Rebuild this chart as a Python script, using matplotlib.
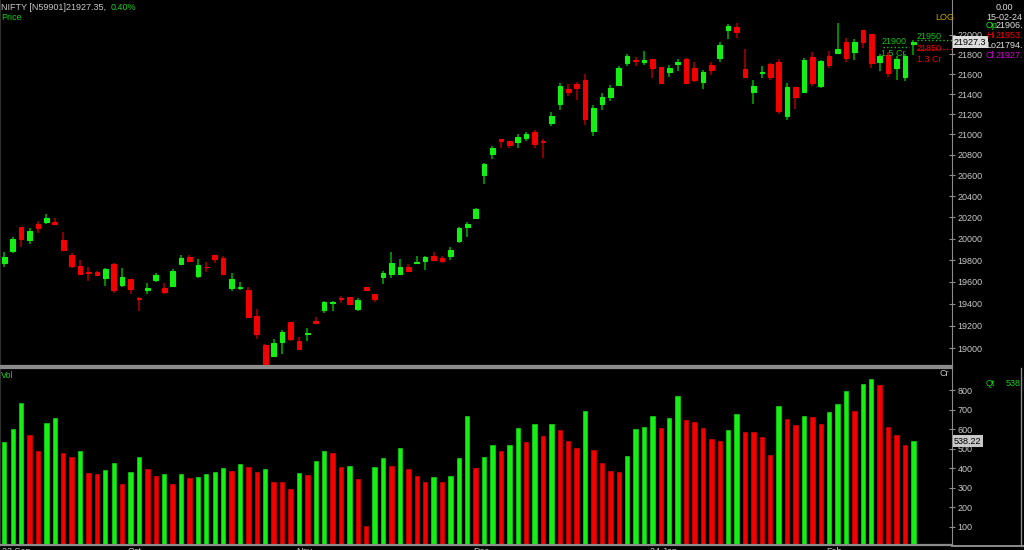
import matplotlib
matplotlib.use("Agg")
import matplotlib.pyplot as plt
import matplotlib.transforms as mtransforms
from matplotlib.lines import Line2D
from matplotlib.ticker import FixedLocator, NullLocator, FuncFormatter
import numpy as np

plt.rcParams["font.family"] = ["Liberation Sans", "DejaVu Sans"]

# Daily NIFTY candles (Sep 2023 - 15 Feb 2024)
opens = [19774, 19886, 20113, 19988, 20138, 20154, 20160, 19988, 19848, 19750,
         19686, 19692, 19636, 19768, 19575, 19627, 19450, 19524, 19618, 19545,
         19566, 19768, 19830, 19652, 19740, 19848, 19823, 19542, 19539, 19527,
         19293, 19033, 18935, 19054, 19239, 19069, 19128, 19248, 19345, 19408,
         19456, 19462, 19351, 19557, 19493, 19645, 19676, 19676, 19741, 19774,
         19793, 19836, 19823, 19842, 19976, 20110, 20192, 20601, 20810, 20955,
         20932, 20925, 20961, 21020, 20935, 21112, 21298, 21451, 21497, 21542,
         21030, 21305, 21368, 21494, 21714, 21744, 21726, 21757, 21670, 21620,
         21702, 21754, 21660, 21525, 21692, 21768, 22048, 22082, 21653, 21425,
         21610, 21706, 21720, 21182, 21469, 21424, 21778, 21480, 21788, 21815,
         21925, 21823, 22051, 22010, 21726, 21798, 21660, 21575, 21906]
highs = [19873, 20013, 20113, 20103, 20169, 20230, 20198, 20060, 19864, 19802,
         19741, 19701, 19728, 19771, 19728, 19627, 19465, 19588, 19680, 19588,
         19722, 19846, 19848, 19809, 19784, 19848, 19839, 19680, 19600, 19557,
         19351, 19039, 19081, 19164, 19239, 19099, 19179, 19284, 19423, 19429,
         19472, 19465, 19456, 19557, 19493, 19695, 19879, 19809, 19762, 19836,
         19839, 19879, 19836, 19923, 20113, 20160, 20290, 20722, 20890, 20955,
         20932, 21006, 21026, 21040, 20955, 21218, 21507, 21500, 21520, 21600,
         21288, 21406, 21490, 21680, 21810, 21772, 21838, 21757, 21670, 21690,
         21753, 21767, 21727, 21643, 21727, 21932, 22112, 22124, 21856, 21542,
         21680, 21716, 21754, 21507, 21469, 21761, 21823, 21744, 21839, 22124,
         21966, 21956, 22051, 22010, 21806, 21822, 21788, 21802, 21953]
lows = [19735, 19870, 19920, 19951, 20057, 20135, 20126, 19886, 19726, 19664,
        19609, 19649, 19561, 19502, 19557, 19490, 19338, 19490, 19600, 19487,
        19557, 19762, 19784, 19639, 19692, 19777, 19667, 19518, 19524, 19269,
        19081, 18847, 18926, 18950, 19069, 18983, 19069, 19224, 19315, 19330,
        19411, 19388, 19336, 19524, 19420, 19584, 19636, 19664, 19686, 19762,
        19713, 19793, 19774, 19802, 19960, 20019, 20182, 20516, 20760, 20867,
        20867, 20870, 20932, 20870, 20770, 21083, 21237, 21380, 21341, 21090,
        20984, 21237, 21331, 21478, 21680, 21680, 21690, 21560, 21507, 21574,
        21636, 21497, 21525, 21451, 21592, 21721, 21959, 21973, 21560, 21298,
        21565, 21542, 21201, 21142, 21251, 21411, 21480, 21463, 21660, 21815,
        21727, 21740, 21864, 21665, 21636, 21575, 21542, 21532, 21794.8]
closes = [19827, 19997, 19995, 20075, 20103, 20198, 20135, 19898, 19744, 19673,
          19680, 19667, 19722, 19527, 19643, 19530, 19445, 19548, 19664, 19511,
          19701, 19818, 19793, 19756, 19735, 19808, 19676, 19627, 19555, 19284,
          19128, 18862, 19051, 19149, 19084, 18992, 19140, 19230, 19417, 19414,
          19447, 19396, 19432, 19524, 19445, 19680, 19774, 19735, 19695, 19787,
          19830, 19799, 19790, 19895, 20103, 20138, 20277, 20709, 20867, 20938,
          20896, 20974, 21000, 20906, 20922, 21182, 21476, 21425, 21463, 21152,
          21258, 21366, 21456, 21660, 21788, 21732, 21741, 21660, 21514, 21660,
          21720, 21507, 21542, 21620, 21646, 21895, 22095, 22028, 21572, 21479,
          21626, 21575, 21234, 21469, 21366, 21744, 21510, 21730, 21696, 21859,
          21768, 21932, 21925, 21716, 21788, 21616, 21754, 21788, 21927.35]

# volume in crores, with the bar colour the chart used (G/R)
volumes = [534, 603, 733, 568, 489, 632, 656, 476, 458, 486,
           378, 369, 393, 429, 321, 381, 457, 397, 362, 369,
           318, 369, 352, 356, 369, 383, 400, 388, 421, 407,
           383, 397, 331, 328, 294, 376, 366, 438, 486, 479,
           405, 412, 347, 105, 405, 450, 409, 506, 398, 362,
           328, 356, 331, 362, 450, 667, 402, 457, 520, 489,
           520, 608, 536, 625, 563, 625, 594, 539, 506, 695,
           493, 429, 385, 381, 464, 601, 609, 667, 604, 656,
           772, 645, 639, 608, 548, 541, 597, 675, 587, 584,
           561, 467, 716, 652, 621, 666, 662, 628, 688, 729,
           793, 692, 831, 855, 824, 609, 568, 520, 538.22]
vol_dir = ("GGGRRGGRRG" "RRGGRGGRRG" "RGRGGGGRGR" "RGRRRGRGGR" "RGRRGGRGRR"
           "RGRGGGRGGR" "GGRGRGRRRG" "RRRRGGGGRG" "GRRRRRGGRR" "RRGRRGRRGG"
           "GRGGRRRRG")

price_ticks = list(range(19000, 22001, 200))
vol_ticks = list(range(100, 801, 100))
month_labels = ["23 Sep", "Oct", "Nov", "Dec", "24 Jan", "Feb"]
month_index = [0, 15, 35, 56, 77, 98]

# order-book style markers next to the last candle
bid_price, bid_qty = 21900, "1.5 Cr"
ask_price, ask_qty = 21850, "1.3 Cr"

GREEN = "#14f014"
RED = "#f20000"
GREEN_WICK = "#00b000"
RED_WICK = "#b00000"
GREY = "#8c8c8c"
TXT = "#c8c8c8"
FS = 6.5

W, H = 1024, 550
fig = plt.figure(figsize=(W / 100, H / 100), dpi=100, facecolor="black")


def fx(px):
    return px / W


def fy(py):
    return 1 - py / H


ax = fig.add_axes([0, fy(366), fx(952), 366 / H], facecolor="black")
axv = fig.add_axes([0, fy(545), fx(952), (545 - 368) / H], facecolor="black", sharex=ax)

o = np.array(opens)
hi = np.array(highs)
lo = np.array(lows)
c = np.array(closes)
x = np.arange(len(c))
up = c >= o

# candles
ax.vlines(x, lo, hi, colors=np.where(up, GREEN_WICK, RED_WICK), linewidth=1.1, zorder=2)
body_lo = np.minimum(o, c)
body_h = np.abs(c - o)
body_col = np.where(up, GREEN, RED)
ax.bar(x, body_h, bottom=body_lo, width=0.55, color=body_col,
       edgecolor=body_col, linewidth=0.8, zorder=3)

ax.set_yscale("log")
ax.set_ylim(18843, 22363)
ax.set_xlim(-4.3 / 8.417, (952 - 4.3) / 8.417)
ax.yaxis.set_major_locator(FixedLocator(price_ticks))
ax.yaxis.set_minor_locator(NullLocator())
ax.yaxis.set_major_formatter(FuncFormatter(lambda v, _: f"{v:.0f}"))
ax.tick_params(axis="y", which="both", left=False, labelleft=False, right=True,
               labelright=True, direction="inout", length=4, color=GREY,
               labelcolor=TXT, labelsize=FS, pad=2)
ax.tick_params(axis="x", bottom=False, labelbottom=False)
for sp in ax.spines.values():
    sp.set_color(GREY)
ax.spines["top"].set_visible(False)
ax.spines["left"].set_color("#303030")
ax.spines["bottom"].set_linewidth(1.6)

# volume
vcol = [GREEN if d == "G" else RED for d in vol_dir]
axv.bar(x, volumes, width=0.52, color=vcol, edgecolor=vcol, linewidth=0.4)
axv.set_ylim(7, 913)
axv.yaxis.set_major_locator(FixedLocator(vol_ticks))
axv.tick_params(axis="y", left=False, labelleft=False, right=True, labelright=True,
                direction="inout", length=4, color=GREY, labelcolor=TXT,
                labelsize=FS, pad=2)
axv.tick_params(axis="x", bottom=False, labelbottom=False)
for sp in axv.spines.values():
    sp.set_color(GREY)
axv.spines["left"].set_color("#303030")
axv.spines["bottom"].set_linewidth(1.6)
axv.spines["top"].set_linewidth(1.6)

# month labels (cut by the bottom edge, as in the terminal)
xt = mtransforms.blended_transform_factory(axv.transData, fig.transFigure)
for lab, i in zip(month_labels, month_index):
    axv.text(i - 0.3, fy(546.5), lab, transform=xt, color=TXT, fontsize=FS,
             va="top", ha="left", clip_on=False)

# header texts
renderer = fig.canvas.get_renderer()
head = fig.text(fx(1), fy(7), "NIFTY [N59901]21927.35,", color=TXT, fontsize=FS, va="center")
hx = head.get_window_extent(renderer=renderer).x1
fig.text(fx(hx + 5), fy(7), "0.40%", color="#18d018", fontsize=FS, va="center")
fig.text(fx(1), fy(17), "Price", color="#18d018", fontsize=FS, va="center")
fig.text(fx(935), fy(17), "LOG", color="#c8a800", fontsize=FS, va="center")

fig.text(fx(996), fy(7), "0.00", color="#e0e0e0", fontsize=FS, va="center")
fig.text(fx(986), fy(17), "15-02-24", color="#e0e0e0", fontsize=FS, va="center")
info = [("Op", GREEN, "21906.", "#e0e0e0", 26),
        ("Hi", RED, "21953.", RED, 36),
        ("Lo", "#e0e0e0", "21794.", "#e0e0e0", 45),
        ("Cl", "#d000d0", "21927.", "#d000d0", 55)]
for k, kc, v, vc, yy in info:
    fig.text(fx(986), fy(yy), k, color=kc, fontsize=FS, va="center")
    fig.text(fx(996), fy(yy), v, color=vc, fontsize=FS, va="center")

# last-price tag on the price axis
tag_t = mtransforms.blended_transform_factory(ax.transAxes, ax.transData)
ax.text(1.002, closes[-1], f"{closes[-1]:.1f}", transform=tag_t, color="black",
        fontsize=FS, va="center", ha="left", clip_on=False,
        bbox=dict(facecolor="#dedede", edgecolor="none", pad=1.0))

# bid / ask markers
ax.text(x[-1] - 3.8, bid_price + 28, str(bid_price), color="#18c018", fontsize=FS,
        va="center", ha="left")
ax.text(x[-1] - 3.8, bid_price - 95, bid_qty, color="#18c018", fontsize=FS,
        va="center", ha="left")
ax.text(x[-1] + 0.4, bid_price + 85, "21950", color="#18c018", fontsize=FS,
        va="center", ha="left")
ax.text(x[-1] + 0.4, ask_price + 12, str(ask_price), color=RED, fontsize=FS,
        va="center", ha="left")
ax.text(x[-1] + 0.4, ask_price - 100, ask_qty, color=RED, fontsize=FS,
        va="center", ha="left")
ax.hlines(bid_price - 22, x[-1] - 3.6, x[-1] - 0.5, colors="#18c018", linestyles=":", linewidth=1)
ax.hlines(bid_price + 48, x[-1] + 0.4, ax.get_xlim()[1], colors="#18c018", linestyles=":", linewidth=1)
ax.hlines(ask_price + 2, x[-1] + 0.4, ax.get_xlim()[1], colors=RED, linestyles=":", linewidth=1)

# volume panel texts
fig.text(fx(1), fy(375), "Vol", color="#18d018", fontsize=FS, va="center")
fig.text(fx(939), fy(374), "Cr", color=TXT, fontsize=FS, va="center")
fig.text(fx(986), fy(384), "Qt", color="#18d018", fontsize=FS, va="center")
fig.text(fx(1006), fy(384), "538.", color="#18d018", fontsize=FS, va="center")
vtag_t = mtransforms.blended_transform_factory(axv.transAxes, axv.transData)
axv.text(1.002, volumes[-1], f"{volumes[-1]:.2f}", transform=vtag_t, color="black",
         fontsize=FS, va="center", ha="left", clip_on=False,
         bbox=dict(facecolor="#c8c8c8", edgecolor="none", pad=1.0))

# frame lines of the right-hand panel
fig.add_artist(Line2D([fx(1021), fx(1021)], [fy(368), fy(546)], color=GREY, linewidth=1))
fig.add_artist(Line2D([fx(952), fx(1024)], [fy(546), fy(546)], color=GREY, linewidth=1.4))

fig.savefig("out.png", dpi=100, facecolor="black")
